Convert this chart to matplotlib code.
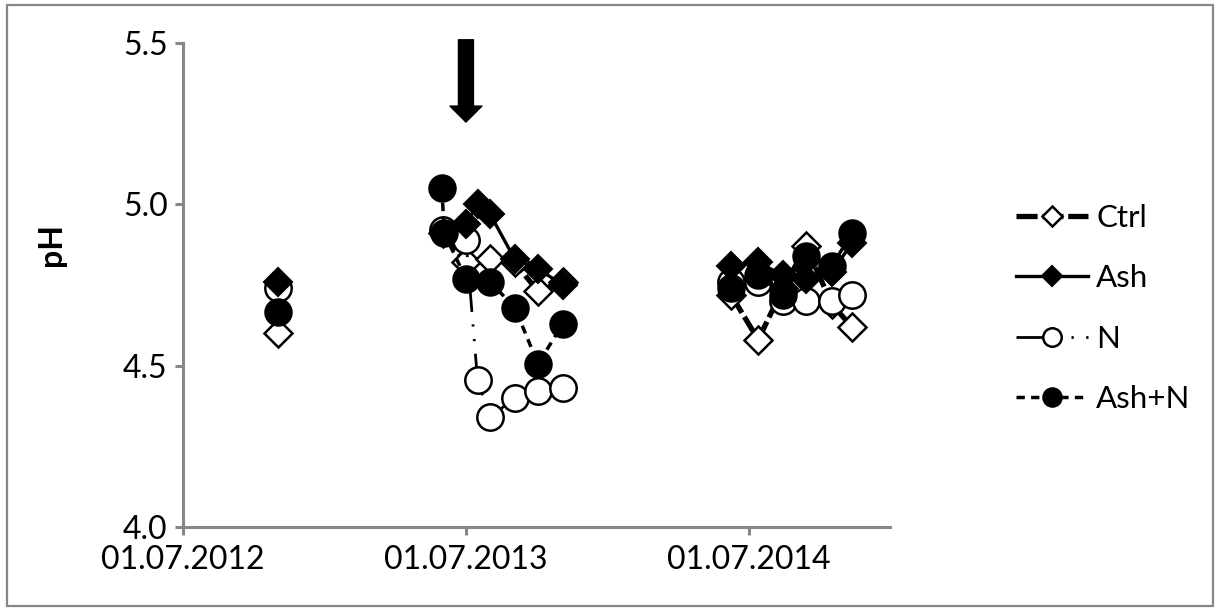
import datetime as dt

import matplotlib
matplotlib.use("Agg")
import matplotlib.dates as mdates
import matplotlib.pyplot as plt
from matplotlib.patches import Rectangle


def d(s):
    return dt.datetime.strptime(s, "%Y-%m-%d")


# ── data
early_date = [d("2012-11-01")]
early_ctrl = [4.60]
early_ash = [4.76]
early_n = [4.74]
early_ashn = [4.665]

ctrl_13_dates = [d(s) for s in ["2013-06-01", "2013-07-01", "2013-08-01", "2013-09-02", "2013-10-02", "2013-11-03"]]
ctrl_13 = [4.91, 4.82, 4.83, 4.82, 4.73, 4.76]
ash_13_dates = [d(s) for s in ["2013-07-01", "2013-07-16", "2013-08-01", "2013-09-02", "2013-10-02", "2013-11-03"]]
ash_13 = [4.94, 5.00, 4.97, 4.83, 4.80, 4.75]
n_13_dates = [d(s) for s in ["2013-06-01", "2013-07-01", "2013-07-16", "2013-08-01", "2013-09-02", "2013-10-02", "2013-11-03"]]
n_13 = [4.92, 4.89, 4.455, 4.34, 4.40, 4.42, 4.43]
ashn_13_dates = [d(s) for s in ["2013-05-31", "2013-06-03", "2013-07-01", "2013-08-01", "2013-09-02", "2013-10-02", "2013-11-03"]]
ashn_13 = [5.05, 4.91, 4.77, 4.76, 4.68, 4.505, 4.63]

dates_14 = [d(s) for s in ["2014-06-08", "2014-07-13", "2014-08-14", "2014-09-13", "2014-10-16", "2014-11-11"]]
ctrl_14 = [4.72, 4.58, 4.74, 4.87, 4.69, 4.62]
ash_14 = [4.81, 4.82, 4.78, 4.77, 4.79, 4.88]
n_14 = [4.76, 4.76, 4.70, 4.70, 4.70, 4.72]
ashn_14 = [4.74, 4.78, 4.72, 4.84, 4.81, 4.91]

tick_dates = [d("2012-07-01"), d("2013-07-01"), d("2014-07-01")]
arrow_date = d("2013-07-01")

plt.rcParams["font.family"] = ["Lato", "DejaVu Sans"]

fig = plt.figure(figsize=(12.2, 6.11), dpi=100)
ax = fig.add_axes([0.15, 0.1375, 0.5795, 0.7921])

styles = {
    "Ctrl": dict(marker="D", ms=14.5, mfc="white", mec="black", mew=1.8, color="black",
                 lw=3.8, dashes=(4.0, 0.9), zorder=3),
    "Ash": dict(marker="D", ms=14.5, mfc="black", mec="black", mew=1.5, color="black",
                lw=2.4, zorder=5),
    "N": dict(marker="o", ms=19, mfc="white", mec="black", mew=1.8, color="black",
              lw=2.0, dashes=(10, 4.5, 0.8, 4.5, 0.8, 4.5), zorder=4),
    "Ash+N": dict(marker="o", ms=19, mfc="black", mec="black", mew=1.5, color="black",
                  lw=2.5, dashes=(2.4, 1.8), zorder=6),
}

series = {
    "Ctrl": [(early_date, early_ctrl), (ctrl_13_dates, ctrl_13), (dates_14, ctrl_14)],
    "Ash": [(early_date, early_ash), (ash_13_dates, ash_13), (dates_14, ash_14)],
    "N": [(early_date, early_n), (n_13_dates, n_13), (dates_14, n_14)],
    "Ash+N": [(early_date, early_ashn), (ashn_13_dates, ashn_13), (dates_14, ashn_14)],
}

for name, parts in series.items():
    for x, y in parts:
        ax.plot(x, y, **styles[name])

ax.set_ylim(4.0, 5.5)
ax.set_yticks([4.0, 4.5, 5.0, 5.5])
ax.yaxis.set_major_formatter(plt.FormatStrFormatter("%.1f"))
ax.set_xlim(d("2012-07-01"), d("2014-12-30"))
ax.set_xticks(tick_dates)
ax.xaxis.set_major_formatter(mdates.DateFormatter("%d.%m.%Y"))

gray = "#878787"
for side in ["top", "right"]:
    ax.spines[side].set_visible(False)
for side in ["left", "bottom"]:
    ax.spines[side].set_color(gray)
    ax.spines[side].set_linewidth(2.2)
ax.tick_params(axis="both", colors=gray, width=2.2, length=6, labelsize=23,
               labelcolor="black")
ax.tick_params(axis="x", pad=7)
ax.tick_params(axis="y", pad=5)
ax.set_ylabel("pH", fontsize=23, fontweight="bold")
ax.yaxis.set_label_coords(-0.165, 0.583)

# arrow marking the treatment
ax.annotate("", xy=(arrow_date, 5.255), xytext=(arrow_date, 5.51),
            arrowprops=dict(arrowstyle="simple,head_length=1.15,head_width=2.3,tail_width=1.08",
                            mutation_scale=10, color="black", shrinkA=0, shrinkB=0),
            annotation_clip=False)

# legend with its own (smaller) markers
leg_handles = []
for name in series:
    st = dict(styles[name])
    st.pop("zorder")
    st["ms"] = st["ms"] * 0.7
    h, = ax.plot([], [], **st)
    leg_handles.append(h)
ax.legend(leg_handles, list(series), loc="center left", bbox_to_anchor=(0.81, 0.495),
          bbox_transform=fig.transFigure, frameon=False, fontsize=22.5,
          handlelength=2.3, handletextpad=0.25, labelspacing=1.04)

fig.patches.append(Rectangle((0.006, 0.009), 0.988, 0.982, transform=fig.transFigure,
                             fill=False, edgecolor=gray, linewidth=1.6))

fig.savefig("out.png", dpi=100)
